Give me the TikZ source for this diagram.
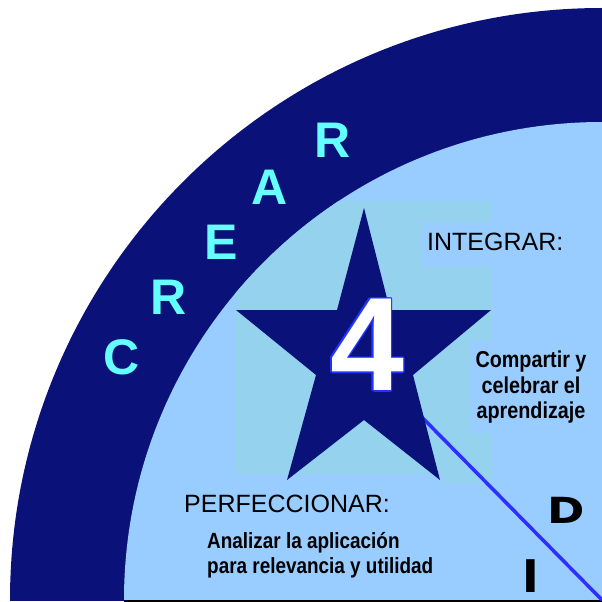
\documentclass[tikz,border=0pt]{standalone}
\usepackage{fontspec}
\setmainfont{Liberation Sans}
\newfontfamily\condb[FakeStretch=0.86]{Liberation Sans Bold}
\newfontfamily\heavy{DejaVu Sans Bold}
\newfontfamily\boldf{Liberation Sans Bold}
\definecolor{navyc}{HTML}{0A127A}
\definecolor{innerc}{HTML}{99CCFF}
\definecolor{sqc}{HTML}{94D2EE}
\definecolor{crearc}{HTML}{66FFFF}
\definecolor{linec}{HTML}{2E2EFF}
\definecolor{fourline}{HTML}{2233FF}
\tikzset{
  crear/.style={text=crearc, font=\boldf\fontsize{50}{50}\selectfont},
  thin/.style={anchor=base west, font=\fontsize{25}{25}\selectfont},
  cond/.style={anchor=base, font=\condb\fontsize{23}{23}\selectfont},
  condl/.style={anchor=base west, font=\condb\fontsize{22}{22}\selectfont},
  fourf/.style={font=\boldf\fontsize{133}{133}\selectfont}
}
\begin{document}
\begin{tikzpicture}[x=1pt,y=-1pt, every node/.style={inner sep=0pt}]
\useasboundingbox (0,0) rectangle (602,602);
\begin{scope}
  \clip (0,0) rectangle (602,600);
  \fill[navyc] (602,600) circle (592);
  \fill[innerc] (602,600) circle (478);
  \begin{scope}
    \clip (602,600) circle (478);
    \fill[sqc] (235,201) rectangle (492,484);
  \end{scope}
  \fill[innerc] (422,222) rectangle (602,267);
  \fill[innerc] (470,340) rectangle (602,433);
  \fill[innerc] (180,474) rectangle (443,598);
\end{scope}
\draw[black, line width=2] (124,601) -- (602,601);
% radial line
\coordinate (o) at (602,600);
\coordinate (st) at (400,395);
\draw[linec, line width=3.5] (o) -- (st);
% star
\fill[navyc] (364,208) -- (390,310) -- (491,310) -- (413,375) -- (440,480)
  -- (364,420) -- (287,480) -- (316,375) -- (236,310) -- (337,310) -- cycle;
% number 4: blue halo copies, then white on top
\foreach \dx/\dy in {1.5/0,-1.5/0,0/1.5,0/-1.5,1.1/1.1,-1.1/1.1,1.1/-1.1,-1.1/-1.1}
  \node[fourf, text=fourline] at (367+\dx,345+\dy) {4};
\node[fourf, text=white] (four) at (367,345) {4};
% CREAR
\node[crear] (c1) at (122,357) {C};
\node[crear] (c2) at (169,297) {R};
\node[crear] (c3) at (221,242) {E};
\node[crear] (c4) at (270,187) {A};
\node[crear] (c5) at (333,140) {R};
% labels
\node[thin] (integ) at (427,250) {INTEGRAR:};
\node[thin] (perf) at (184,512) {PERFECCIONAR:};
\node[cond] (cp1) at (531,367) {Compartir y};
\node[cond] (cp2) at (531,393) {celebrar el};
\node[cond] (cp3) at (531,418) {aprendizaje};
\node[condl] (an1) at (207,548) {Analizar la aplicación};
\node[condl] (an2) at (207,573) {para relevancia y utilidad};
\node[font=\heavy\fontsize{36}{36}\selectfont] (D) at (566,510) {\scalebox{1.25}[1]{D}};
\node[font=\heavy\fontsize{45}{45}\selectfont] (I) at (531,576) {I};
\end{tikzpicture}
\end{document}
